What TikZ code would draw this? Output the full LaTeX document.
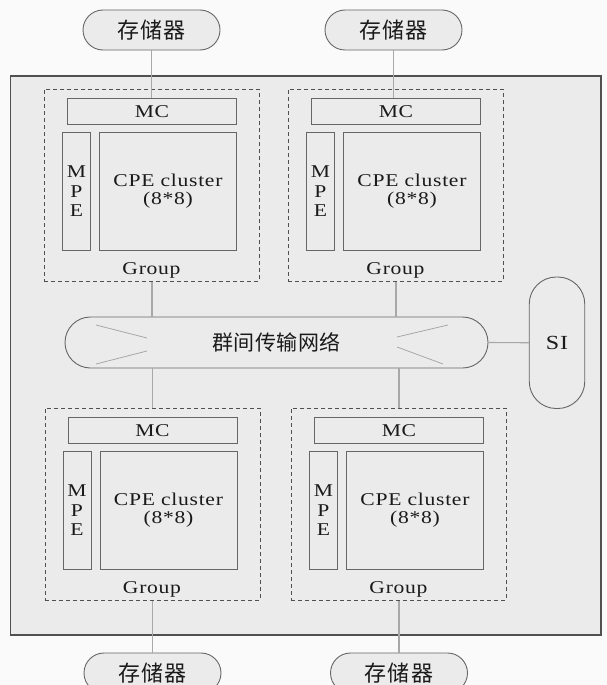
\documentclass[tikz,border=0pt]{standalone}
\usepackage{fontspec}
\setmainfont{Liberation Serif}[FakeStretch=1.2]
\newfontfamily\cjk{Noto Sans CJK SC}
\usetikzlibrary{shapes.misc}

\definecolor{pagebg}{HTML}{FAFAFA}
\definecolor{panel}{HTML}{EBEBEB}
\definecolor{edge}{HTML}{505050}
\definecolor{boxedge}{HTML}{666666}
\definecolor{wire}{HTML}{A8A8A8}
\definecolor{ink}{HTML}{1A1A1A}

\tikzset{
  latin/.style={font=\fontsize{18}{19}\selectfont\addfontfeatures{LetterSpace=4}},
  box/.style={rectangle, draw=boxedge, line width=0.9pt, fill=panel,
              inner sep=0pt, text=ink, latin, anchor=north west},
  groupframe/.style={rectangle, draw=edge, line width=0.9pt,
              dash pattern=on 4pt off 3pt, inner sep=0pt, anchor=north west},
  memory/.style={shape=rounded rectangle, draw=boxedge, line width=0.9pt,
              fill=panel, minimum width=137pt, minimum height=40pt, inner sep=0pt,
              text=ink, font=\cjk\fontsize{22}{24}\selectfont\addfontfeatures{LetterSpace=6}},
  wire/.style={draw=wire, line width=1.1pt},
}

% one processor group: dashed frame, MC bar, MPE column and CPE cluster
\newcommand\cpegroup[3]{%
  \begin{scope}[shift={(#2,#3)}]
    \node[groupframe, minimum width=215pt, minimum height=192pt] (#1) at (0,0) {};
    \node[box, minimum width=169pt, minimum height=26pt] (#1mc) at (23,9) {MC};
    \node[box, minimum width=28pt, minimum height=118pt, align=center,
          font=\fontsize{18}{19.5}\selectfont] (#1mpe) at (18,43) {M\\P\\E};
    \node[box, minimum width=137pt, minimum height=118pt, align=center] (#1cpe) at (55,43)
      {CPE cluster\\[-1pt](8*8)};
    \node[latin, text=ink, inner sep=0pt] (#1lbl) at (107.5,181) {Group};
  \end{scope}}

\begin{document}
\begin{tikzpicture}[x=1pt, y=-1pt]
  \useasboundingbox (0,0) rectangle (607,685);
  \clip (0,0) rectangle (607,685);
  \fill[pagebg] (0,0) rectangle (607,685);

  % chip outline
  \draw[edge, fill=panel, line width=1.2pt] (10.7,76) rectangle (601,635);

  \cpegroup{TL}{44}{89}
  \cpegroup{TR}{288}{89}
  \cpegroup{LL}{44.5}{408}
  \cpegroup{LR}{291}{408}

  % on-chip network and system interface
  \node[shape=rounded rectangle, draw=boxedge, line width=0.9pt, fill=panel,
        minimum width=423pt, minimum height=51pt, inner sep=0pt, text=ink,
        font=\cjk\fontsize{21}{23}\selectfont\addfontfeatures{LetterSpace=2}]
        (net) at (276.5,342.5) {群间传输网络};
  \node[rectangle, rounded corners=27pt, draw=boxedge, line width=0.9pt, fill=panel,
        minimum width=55.5pt, minimum height=131.5pt, inner sep=0pt, text=ink,
        font=\fontsize{20}{22}\selectfont\addfontfeatures{LetterSpace=4}]
        (si) at (557,342.75) {SI};

  \draw[wire, line width=0.8pt] (96,325) -- (147,338);
  \draw[wire, line width=0.8pt] (96,364) -- (147,351);
  \draw[wire, line width=0.8pt] (448,325) -- (397,337);
  \draw[wire, line width=0.8pt] (443,364) -- (397,347);

  % memories
  \node[memory] (memTL) at (151.5,30) {存储器};
  \node[memory] (memTR) at (393.5,30) {存储器};
  \node[memory] (memBL) at (152.5,673) {存储器};
  \node[memory] (memBR) at (399,673) {存储器};

  % connections
  \draw[wire] (memTL.south) -- (memTL.south |- TLmc.north);
  \draw[wire] (memTR.south) -- (memTR.south |- TRmc.north);
  \draw[wire] (TL.south) -- (TL.south |- net.north);
  \draw[wire] (TR.south) -- (TR.south |- net.north);
  \draw[wire] (LL.north) -- (LL.north |- net.south);
  \draw[wire] (LR.north) -- (LR.north |- net.south);
  \draw[wire] (LL.south) -- (LL.south |- memBL.north);
  \draw[wire] (LR.south) -- (LR.south |- memBR.north);
  \draw[wire] (net.east) -- (si.west);
\end{tikzpicture}
\end{document}
